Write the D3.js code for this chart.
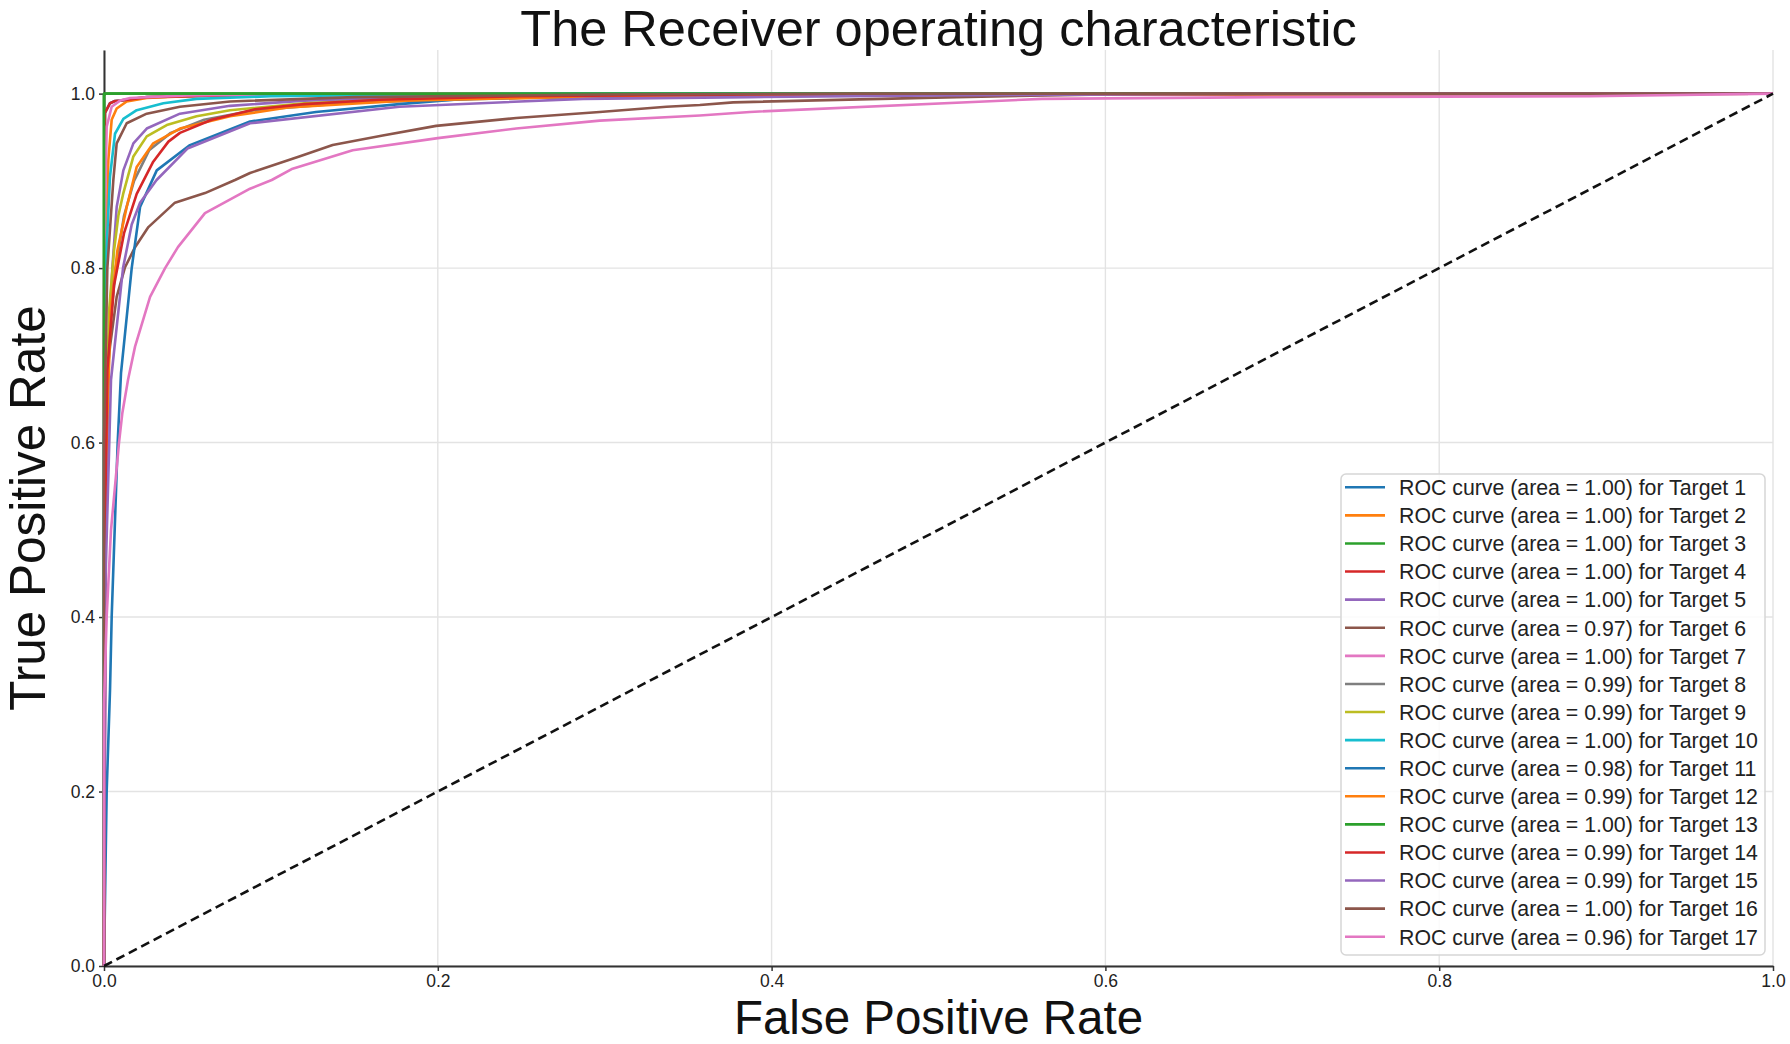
<!DOCTYPE html>
<html><head><meta charset="utf-8">
<script src="https://cdn.jsdelivr.net/npm/d3@7"></script>
<style>body{margin:0;background:#fff}svg{display:block}</style>
</head><body>
<svg id="chart" width="1790" height="1044"></svg>
<script>
// ---- data ----
const targetNames = ["Target 1","Target 2","Target 3","Target 4","Target 5","Target 6","Target 7","Target 8","Target 9","Target 10","Target 11","Target 12","Target 13","Target 14","Target 15","Target 16","Target 17"];
const areaLabels = ["1.00","1.00","1.00","1.00","1.00","0.97","1.00","0.99","0.99","1.00","0.98","0.99","1.00","0.99","0.99","1.00","0.96"];
const seriesColors = ["#1f77b4","#ff7f0e","#2ca02c","#d62728","#9467bd","#8c564b","#e377c2","#7f7f7f","#bcbd22","#17becf","#1f77b4","#ff7f0e","#2ca02c","#d62728","#9467bd","#8c564b","#e377c2"];
const tickValues = [0.0,0.2,0.4,0.6,0.8,1.0];
const tickLabels = ["0.0","0.2","0.4","0.6","0.8","1.0"];
const chanceLine = [[0,0],[1,1]];

// ROC points [fpr, tpr] per target
const roc1  = [[0,0],[0,0.7],[0.0006,0.978],[0.0036,0.989],[0.0066,0.9915],[0.0096,0.992],[0.0256,0.996],[0.1,0.999],[1,1]];
const roc2  = [[0,0],[0.0005,0.6],[0.0015,0.85],[0.0026,0.924],[0.0046,0.970],[0.0076,0.983],[0.0136,0.991],[0.0256,0.995],[0.06,0.998],[0.2,1],[1,1]];
const roc3  = [[0,0],[0,1],[1,1]];
const roc4  = [[0,0],[0,0.7],[0.0006,0.978],[0.0036,0.989],[0.0066,0.9915],[0.0096,0.992],[0.0256,0.996],[0.1,0.999],[1,1]];
const roc5  = [[0,0],[0.001,0.5],[0.003,0.72],[0.005,0.80],[0.0076,0.870],[0.0116,0.912],[0.0176,0.943],[0.0256,0.960],[0.0455,0.977],[0.0755,0.986],[0.12,0.992],[0.2,0.996],[0.35,0.999],[1,1]];
const roc6  = [[0,0],[0,0.5],[0.0016,0.672],[0.0036,0.710],[0.0076,0.767],[0.0126,0.801],[0.0186,0.824],[0.0266,0.847],[0.0425,0.875],[0.0605,0.886],[0.0785,0.901],[0.0875,0.909],[0.117,0.928],[0.137,0.941],[0.167,0.952],[0.199,0.963],[0.247,0.972],[0.297,0.979],[0.337,0.985],[0.357,0.987],[0.377,0.990],[0.511,0.996],[0.6,0.999],[1,1]];
const roc7  = [[0,0],[0,0.8],[0.0016,0.962],[0.0046,0.985],[0.0096,0.992],[0.0156,0.995],[0.05,0.998],[0.15,1],[1,1]];
const roc8  = [[0,0],[0.0008,0.55],[0.003,0.72],[0.007,0.80],[0.012,0.86],[0.018,0.90],[0.027,0.935],[0.04,0.955],[0.06,0.970],[0.09,0.981],[0.15,0.99],[0.25,0.995],[0.4,0.999],[1,1]];
const roc9  = [[0,0],[0.0006,0.55],[0.003,0.75],[0.006,0.82],[0.0086,0.86],[0.0116,0.886],[0.0176,0.928],[0.0256,0.951],[0.0376,0.964],[0.0555,0.974],[0.0755,0.981],[0.12,0.989],[0.2,0.995],[0.35,0.999],[1,1]];
const roc10 = [[0,0],[0,0.6],[0.001,0.80],[0.0036,0.905],[0.0066,0.954],[0.0116,0.971],[0.0196,0.981],[0.0356,0.989],[0.0555,0.994],[0.1,0.997],[0.25,1],[1,1]];
const roc11 = [[0,0],[0.0016,0.2],[0.0036,0.316],[0.0046,0.40],[0.0082,0.60],[0.0102,0.68],[0.0166,0.80],[0.0216,0.87],[0.0316,0.912],[0.0515,0.941],[0.0875,0.968],[0.127,0.979],[0.177,0.988],[0.215,0.994],[0.267,0.996],[0.4,0.998],[0.6,1],[1,1]];
const roc12 = [[0,0],[0.0008,0.55],[0.004,0.75],[0.008,0.82],[0.0136,0.870],[0.0196,0.916],[0.0295,0.943],[0.0455,0.960],[0.0755,0.974],[0.11,0.984],[0.18,0.992],[0.3,0.997],[0.45,0.999],[1,1]];
const roc13 = [[0,0],[0,0.998],[0.001,1],[1,1]];
const roc14 = [[0,0],[0.001,0.55],[0.002,0.683],[0.006,0.78],[0.012,0.84],[0.0196,0.885],[0.0295,0.922],[0.0386,0.945],[0.0455,0.955],[0.0645,0.970],[0.0905,0.982],[0.12,0.988],[0.165,0.993],[0.25,0.997],[0.4,0.999],[1,1]];
const roc15 = [[0,0],[0.001,0.45],[0.0042,0.672],[0.0114,0.80],[0.0166,0.85],[0.0216,0.875],[0.0315,0.901],[0.05,0.937],[0.0875,0.966],[0.177,0.985],[0.287,0.994],[0.387,0.996],[0.5,0.998],[0.7,1],[1,1]];
const roc16 = [[0,0],[0,0.6],[0.002,0.80],[0.0056,0.901],[0.0076,0.943],[0.0136,0.966],[0.0256,0.977],[0.0455,0.985],[0.0755,0.991],[0.15,0.996],[0.3,0.999],[0.45,1],[1,1]];
const roc17 = [[0,0],[0,0.30],[0.0016,0.40],[0.0042,0.50],[0.009,0.60],[0.011,0.634],[0.0144,0.672],[0.0186,0.710],[0.0276,0.767],[0.0366,0.80],[0.0443,0.824],[0.0605,0.863],[0.0875,0.891],[0.1005,0.901],[0.113,0.914],[0.149,0.935],[0.2,0.949],[0.247,0.960],[0.297,0.969],[0.357,0.975],[0.387,0.979],[0.562,0.994],[0.7,0.996],[0.89,0.997],[1,1]];
const rocCurves = [roc1,roc2,roc3,roc4,roc5,roc6,roc7,roc8,roc9,roc10,roc11,roc12,roc13,roc14,roc15,roc16,roc17];

// ---- drawing ----
const svg = d3.select("#chart");
const FONT = "'Liberation Sans', Arial, sans-serif";
const x = d3.scaleLinear().domain([0,1]).range([104,1773]);
const y = d3.scaleLinear().domain([0,1.05]).range([966,50]);

// grid
const grid = svg.append("g");
grid.selectAll(".gx").data(tickValues).join("line")
  .attr("x1",d=>x(d)).attr("x2",d=>x(d)).attr("y1",y(0)).attr("y2",y(1.05))
  .attr("stroke","#e3e3e3").attr("stroke-width",1.4);
grid.selectAll(".gy").data(tickValues).join("line")
  .attr("y1",d=>y(d)).attr("y2",d=>y(d)).attr("x1",x(0)).attr("x2",x(1))
  .attr("stroke","#e3e3e3").attr("stroke-width",1.4);

// axes
const xAxis = svg.append("g").attr("transform",`translate(0,${y(0)})`)
  .call(d3.axisBottom(x).tickValues(tickValues).tickFormat((d,i)=>tickLabels[i]).tickSize(5).tickSizeOuter(0));
const yAxis = svg.append("g").attr("transform",`translate(${x(0)},0)`)
  .call(d3.axisLeft(y).tickValues(tickValues).tickFormat((d,i)=>tickLabels[i]).tickSize(5).tickSizeOuter(0));
[xAxis,yAxis].forEach(g=>{
  g.select(".domain").attr("stroke","#333").attr("stroke-width",2);
  g.selectAll(".tick line").attr("stroke","#333").attr("stroke-width",1.5);
  g.selectAll(".tick text").attr("font-family",FONT).attr("font-size",17.5).attr("fill","#222");
});
xAxis.selectAll(".tick text").attr("dy","0.75em");
yAxis.selectAll(".tick text").attr("dx","-1px");

// curves
const line = d3.line().x(d=>x(d[0])).y(d=>y(d[1]));
const plot = svg.append("g");
rocCurves.forEach((pts,i)=>{
  plot.append("path").datum(pts).attr("d",line)
    .attr("fill","none").attr("stroke",seriesColors[i]).attr("stroke-width",2.6)
    .attr("stroke-linejoin","round");
});
plot.append("path").datum(chanceLine).attr("d",line)
  .attr("fill","none").attr("stroke","#111").attr("stroke-width",2.6)
  .attr("stroke-dasharray","9,5");

// titles
svg.append("text").attr("x",(x(0)+x(1))/2).attr("y",46).attr("text-anchor","middle")
  .attr("font-family",FONT).attr("font-size",50.5).attr("fill","#111")
  .text("The Receiver operating characteristic");
svg.append("text").attr("x",(x(0)+x(1))/2).attr("y",1033.5).attr("text-anchor","middle")
  .attr("font-family",FONT).attr("font-size",47.5).attr("fill","#111")
  .text("False Positive Rate");
svg.append("text").attr("transform",`translate(45,${(y(0)+y(1.05))/2}) rotate(-90)`)
  .attr("text-anchor","middle")
  .attr("font-family",FONT).attr("font-size",49.5).attr("fill","#111")
  .text("True Positive Rate");

// legend
const lg = svg.append("g");
lg.append("rect").attr("x",1341).attr("y",474).attr("width",424).attr("height",481)
  .attr("rx",5).attr("fill","#fff").attr("fill-opacity",0.85)
  .attr("stroke","#d6d6d6").attr("stroke-width",1.5);
targetNames.forEach((name,i)=>{
  const cy = 487.3 + i*28.09;
  lg.append("line").attr("x1",1345).attr("x2",1385).attr("y1",cy).attr("y2",cy)
    .attr("stroke",seriesColors[i]).attr("stroke-width",2.6);
  lg.append("text").attr("x",1399).attr("y",cy+7.8)
    .attr("font-family",FONT).attr("font-size",21.3).attr("fill","#222")
    .text(`ROC curve (area = ${areaLabels[i]}) for ${name}`);
});
</script>
</body></html>
